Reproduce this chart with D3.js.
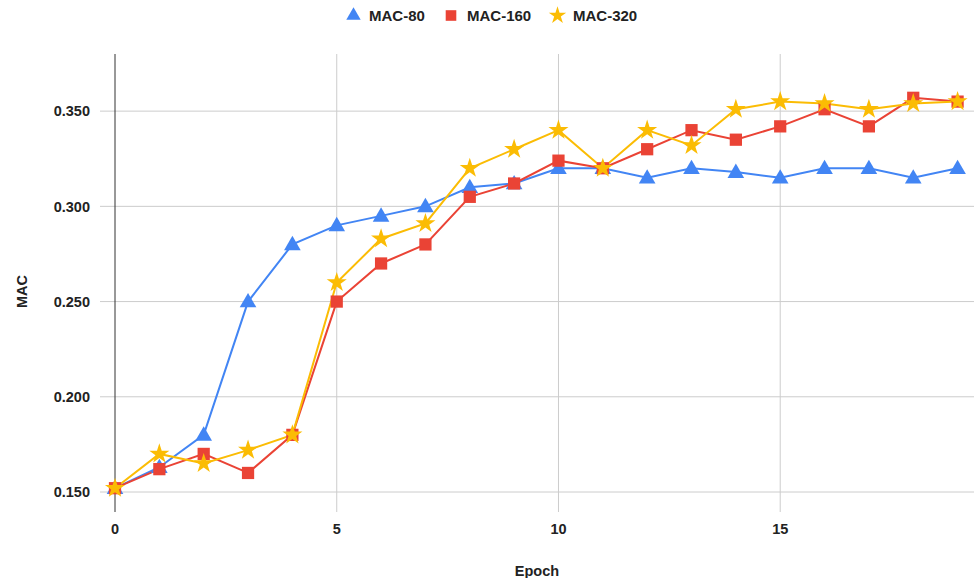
<!DOCTYPE html>
<html>
<head>
<meta charset="utf-8">
<script src="https://cdn.jsdelivr.net/npm/d3@7"></script>
<style>
  html, body { margin: 0; padding: 0; background: #fff; }
  svg { display: block; font-family: "Liberation Sans", Arial, sans-serif; }
</style>
</head>
<body>
<svg id="chart" width="974" height="578"></svg>
<script>
// Training curves: MAC per epoch for three settings
const epochs = d3.range(0, 20);
const mac80  = [0.152, 0.163, 0.180, 0.250, 0.280, 0.290, 0.295, 0.300, 0.310, 0.312,
                0.320, 0.320, 0.315, 0.320, 0.318, 0.315, 0.320, 0.320, 0.315, 0.320];
const mac160 = [0.152, 0.162, 0.170, 0.160, 0.180, 0.250, 0.270, 0.280, 0.305, 0.312,
                0.324, 0.320, 0.330, 0.340, 0.335, 0.342, 0.351, 0.342, 0.357, 0.355];
const mac320 = [0.152, 0.170, 0.165, 0.172, 0.180, 0.260, 0.283, 0.291, 0.320, 0.330,
                0.340, 0.320, 0.340, 0.332, 0.351, 0.355, 0.354, 0.351, 0.354, 0.355];
const seriesNames = ["MAC-80", "MAC-160", "MAC-320"];
const yTicks = [0.15, 0.20, 0.25, 0.30, 0.35];
const xTicks = [0, 5, 10, 15];

const colors = ["#4285F4", "#EA4335", "#FBBC04"];
const symbols = [d3.symbolTriangle, d3.symbolSquare, d3.symbolStar];
const symbolSizes = [120, 150, 125];
const series = [mac80, mac160, mac320].map((vals, i) => ({
  name: seriesNames[i], color: colors[i], symbol: symbols[i], size: symbolSizes[i],
  points: vals.map((v, j) => ({ x: epochs[j], y: v }))
}));

const svg = d3.select("#chart");
const area = { left: 115, right: 974, top: 54, bottom: 512 };
const fontSize = 14.5;

const x = d3.scaleLinear().domain([0, 19.37]).range([area.left, area.right]);
const y = d3.scaleLinear().domain([0.1395, 0.380]).range([area.bottom, area.top]);

// Horizontal gridlines with short tick stubs left of the axis
svg.append("g")
  .selectAll("line")
  .data(yTicks)
  .join("line")
  .attr("x1", 100).attr("x2", area.right)
  .attr("y1", d => y(d)).attr("y2", d => y(d))
  .attr("stroke", "#cccccc").attr("stroke-width", 1);

// Vertical gridlines
svg.append("g")
  .selectAll("line")
  .data(xTicks.filter(d => d !== 0))
  .join("line")
  .attr("x1", d => x(d)).attr("x2", d => x(d))
  .attr("y1", area.top).attr("y2", area.bottom)
  .attr("stroke", "#cccccc").attr("stroke-width", 1);

// Baseline at epoch 0
svg.append("line")
  .attr("x1", x(0)).attr("x2", x(0))
  .attr("y1", area.top).attr("y2", area.bottom)
  .attr("stroke", "#333333").attr("stroke-width", 1);

// Y tick labels
svg.append("g")
  .selectAll("text")
  .data(yTicks)
  .join("text")
  .attr("x", 90).attr("y", d => y(d))
  .attr("dy", "0.36em")
  .attr("text-anchor", "end")
  .attr("font-size", fontSize).attr("font-weight", "bold").attr("fill", "#222")
  .text(d => d3.format(".3f")(d));

// X tick labels
svg.append("g")
  .selectAll("text")
  .data(xTicks)
  .join("text")
  .attr("x", d => x(d)).attr("y", 534)
  .attr("text-anchor", "middle")
  .attr("font-size", fontSize).attr("font-weight", "bold").attr("fill", "#222")
  .text(d => d);

// Axis titles
svg.append("text")
  .attr("x", 537).attr("y", 576)
  .attr("text-anchor", "middle")
  .attr("font-size", fontSize).attr("font-weight", "bold").attr("fill", "#222")
  .text("Epoch");

svg.append("text")
  .attr("transform", "translate(26.5,291.5) rotate(-90)")
  .attr("text-anchor", "middle")
  .attr("font-size", fontSize).attr("font-weight", "bold").attr("fill", "#222")
  .text("MAC");

// Lines and markers
const line = d3.line().x(d => x(d.x)).y(d => y(d.y));
svg.append("clipPath").attr("id", "plot-clip")
  .append("rect").attr("x", 0).attr("y", area.top).attr("width", 974).attr("height", area.bottom - area.top + 20);

const plot = svg.append("g").attr("clip-path", "url(#plot-clip)");
series.forEach(s => {
  plot.append("path")
    .datum(s.points)
    .attr("fill", "none")
    .attr("stroke", s.color)
    .attr("stroke-width", 2)
    .attr("d", line);
});
series.forEach(s => {
  const sym = d3.symbol().type(s.symbol).size(s.size);
  plot.append("g")
    .selectAll("path")
    .data(s.points)
    .join("path")
    .attr("transform", d => `translate(${x(d.x)},${y(d.y) + (s.symbol === d3.symbolTriangle ? 1 : 0)})`)
    .attr("d", sym)
    .attr("fill", s.color);
});

// Legend
const legendItems = [
  { sx: 353.5, tx: 369 },
  { sx: 451, tx: 467 },
  { sx: 557.5, tx: 573 }
];
const legend = svg.append("g");
series.forEach((s, i) => {
  const it = legendItems[i];
  legend.append("path")
    .attr("transform", `translate(${it.sx},${s.symbol === d3.symbolTriangle ? 15.5 : 15.5})`)
    .attr("d", d3.symbol().type(s.symbol).size(s.size * 0.75))
    .attr("fill", s.color);
  legend.append("text")
    .attr("x", it.tx).attr("y", 15.5).attr("dy", "0.36em")
    .attr("font-size", 15).attr("font-weight", "bold").attr("fill", "#222")
    .text(s.name);
});
</script>
</body>
</html>
